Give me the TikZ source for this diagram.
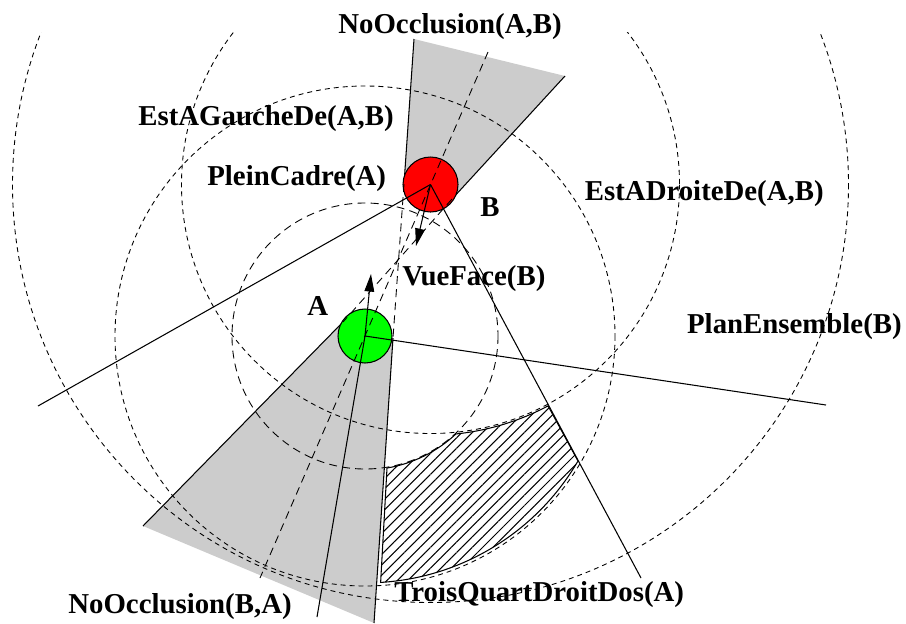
\documentclass[tikz,border=0pt]{standalone}
\usepackage{fontspec}
\setmainfont{Liberation Serif}
\usepackage{tikz}
\usetikzlibrary{arrows.meta, patterns.meta}

\begin{document}
\begin{tikzpicture}[
    x=0.02cm, y=-0.02cm,
    lbl/.style={font=\bfseries\fontsize{16.4}{18}\selectfont, inner sep=0pt},
    cone/.style={fill=black!20, draw=none},
    trait/.style={line width=0.6pt},
    tirets/.style={line width=0.5pt, dash pattern=on 2.8pt off 2.3pt},
    tiretslongs/.style={line width=0.5pt, dash pattern=on 4.5pt off 3pt},
    objet/.style={draw, line width=0.6pt},
    arrow/.style={line width=0.6pt, -{Triangle[length=10pt, width=5.5pt]}}
]
\useasboundingbox (0,0) rectangle (906,623);

% objets
\coordinate (A) at (365,336);
\coordinate (B) at (430.5,184.5);

% tangentes des cones d'occlusion
\coordinate (t1top) at (414,39);
\coordinate (t1B) at (404,184);
\coordinate (t1A) at (393,338);
\coordinate (t1bot) at (374,623);
\coordinate (t2top) at (565,76);
\coordinate (t2B) at (452,199);
\coordinate (t2A) at (343,322);
\coordinate (t2bot) at (143,526);

\fill[cone] (t1top) -- (t2top) -- (t2B) -- (B) -- (t1B) -- cycle;
\fill[cone] (t2A) -- (t2bot) -- (t1bot) -- (t1A) -- (A) -- cycle;
\draw[trait] (t1top) -- (t1B);
\draw[trait] (t2top) -- (t2B);
\draw[trait] (t2A) -- (t2bot);
\draw[trait] (t1A) -- (t1bot);

% distances
\begin{scope}
\clip (0,32) rectangle (906,623);
\draw[tirets] (B) circle (418);
\draw[tirets] (B) circle (249);
\draw[tirets] (A) circle (250);
\end{scope}
\draw[tiretslongs] (A) circle (133);

% zone solution
\coordinate (h1) at (387,468);
\coordinate (h4) at (578,461);
\draw[trait, pattern={Lines[angle=45, distance=4.2pt, line width=0.6pt]}]
  (h1) arc[start angle=80.5, end angle=46.9, radius=133]
  arc[start angle=84.2, end angle=61.9, radius=249]
  -- (h4)
  arc[start angle=30.3, end angle=86.5, radius=246] -- cycle;

% demi-droites des orientations
\coordinate (bg) at (38,406);
\coordinate (bd) at (641,578);
\coordinate (ad) at (826,405);
\coordinate (ab) at (317,617);

\draw[objet, fill=red] (B) circle (27.5);
\draw[objet, fill=green] (A) circle (27);

\draw[tiretslongs] (t1B) -- (t1A);
\draw[tiretslongs] (t2B) -- (t2A);
\coordinate (abtop) at (488,52);
\coordinate (abbot) at (260,578);
\draw[tiretslongs] (abtop) -- (abbot);

\draw[trait] (B) -- (bg);
\draw[trait] (B) -- (bd);
\draw[trait] (A) -- (ad);
\draw[trait] (A) -- (ab);

\coordinate (Bvue) at (416,246);
\coordinate (Avue) at (371,274);
\draw[arrow] (B) -- (Bvue);
\draw[arrow] (A) -- (Avue);

% etiquettes
\node (noab) [lbl, anchor=base west] at (338,33) {NoOcclusion(A,B)};
\node (gauche) [lbl, anchor=base west] at (138,125) {EstAGaucheDe(A,B)};
\node (plein) [lbl, anchor=base west] at (207,185) {PleinCadre(A)};
\node (nomB) [lbl, anchor=base west] at (480,216) {B};
\node (droite) [lbl, anchor=base east] at (824,200) {EstADroiteDe(A,B)};
\node (face) [lbl, anchor=base west] at (402,285) {VueFace(B)};
\node (nomA) [lbl, anchor=base west] at (307,315) {A};
\node (ensemble) [lbl, anchor=base east] at (902,333) {PlanEnsemble(B)};
\node (noba) [lbl, anchor=base west] at (68,613) {NoOcclusion(B,A)};
\node (trois) [lbl, anchor=base west] at (394,601) {TroisQuartDroitDos(A)};
\end{tikzpicture}
\end{document}
